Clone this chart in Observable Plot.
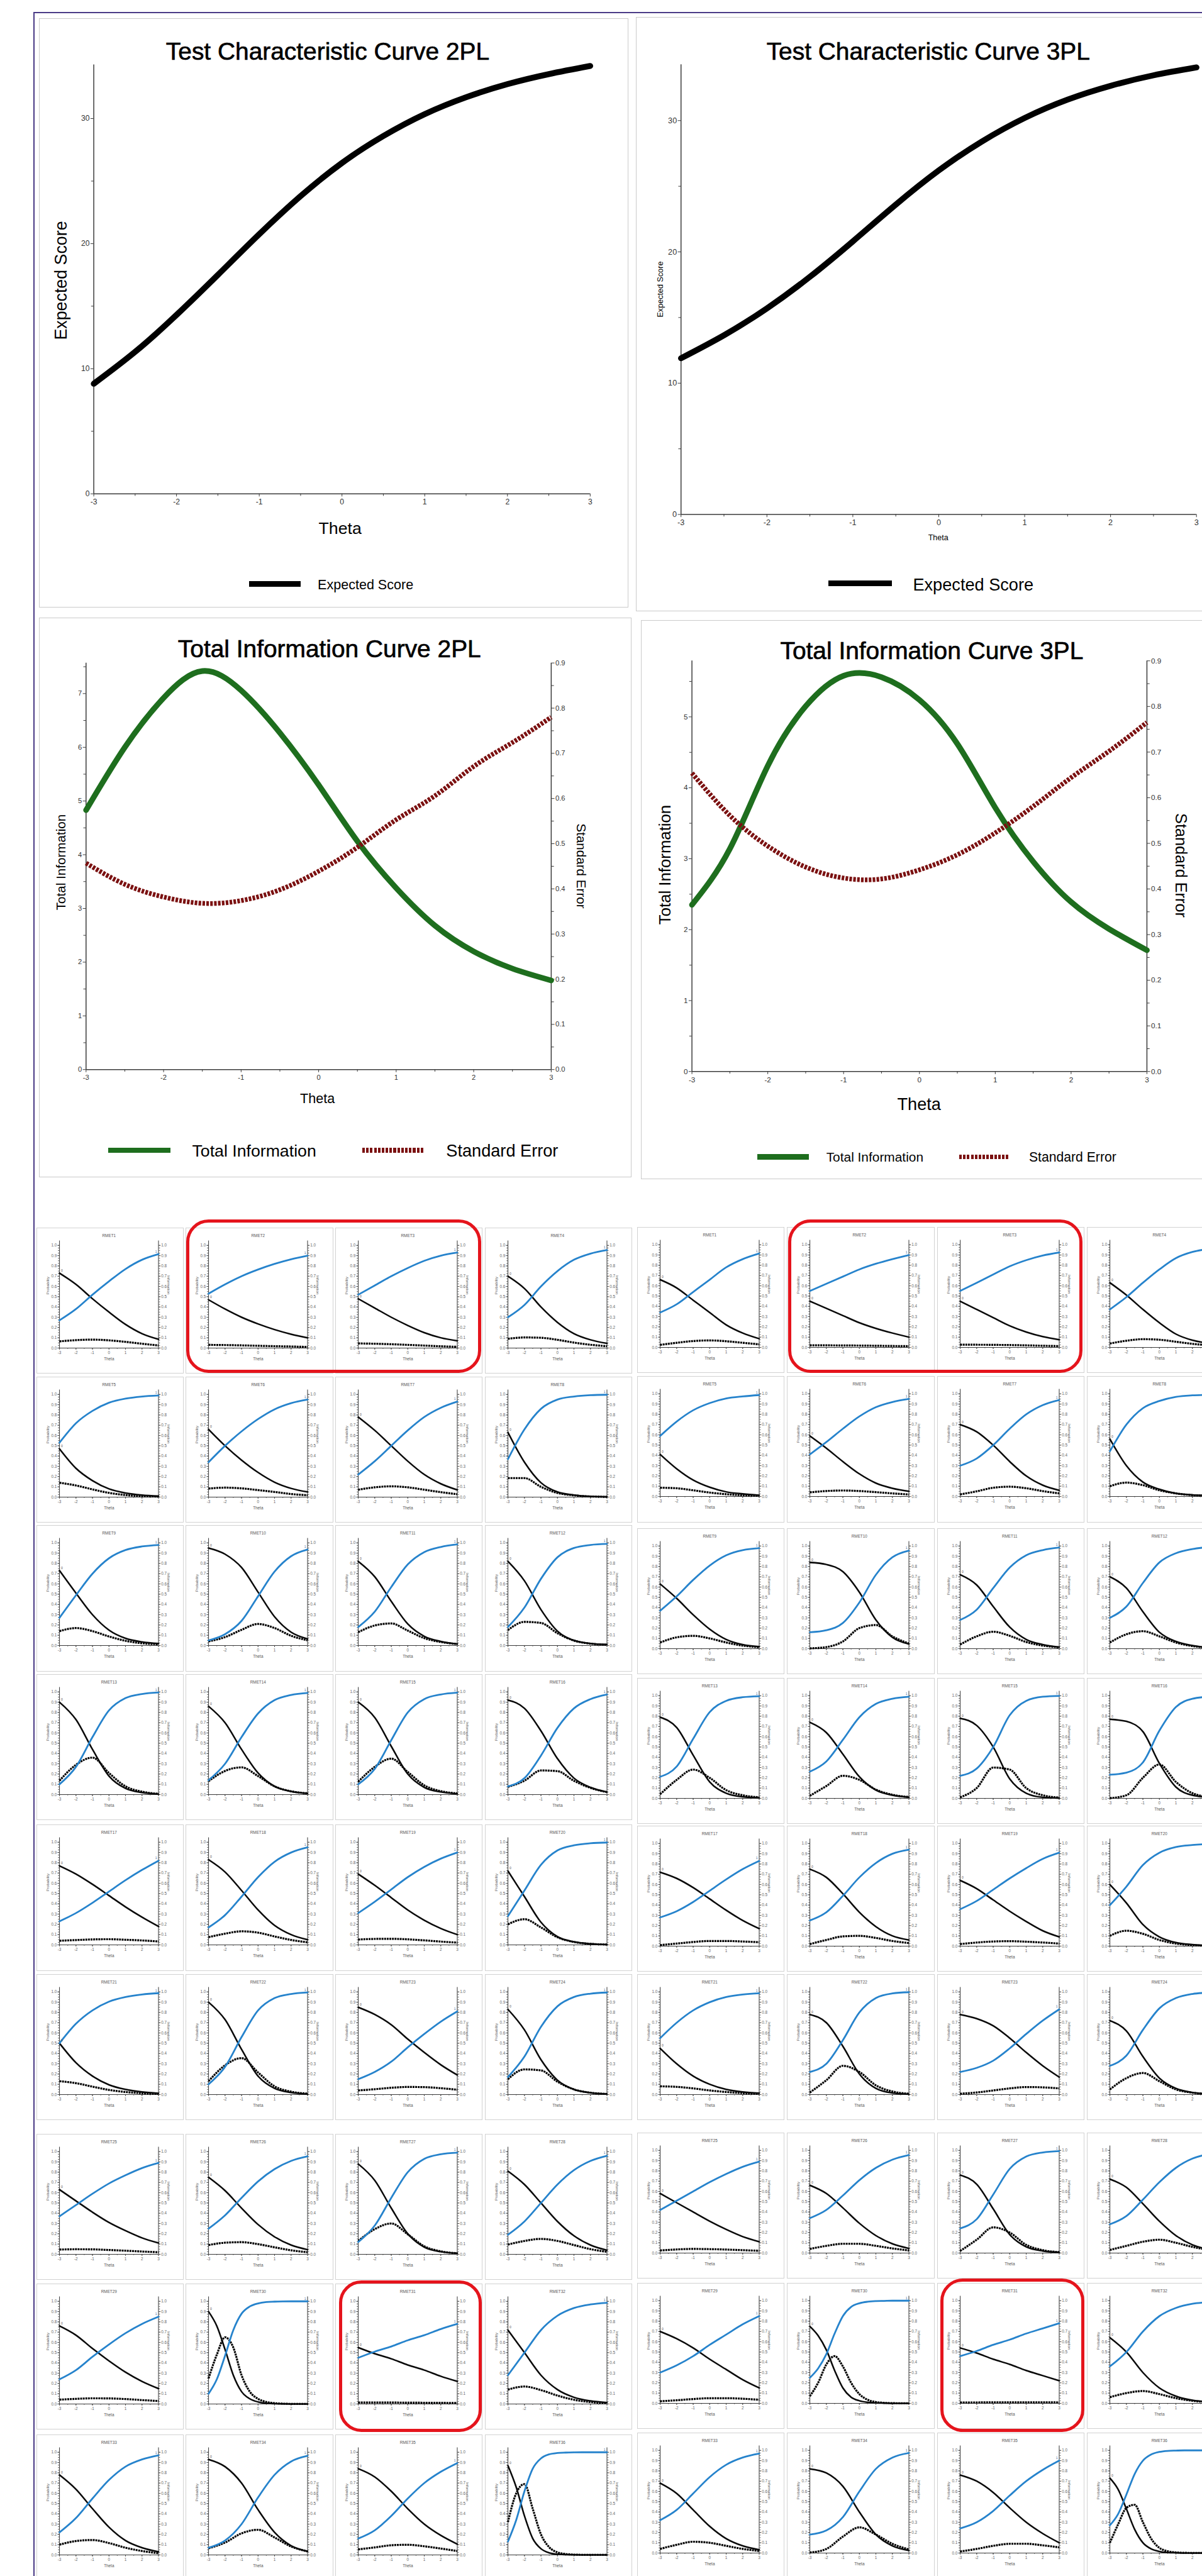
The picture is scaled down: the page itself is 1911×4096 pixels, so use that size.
<!DOCTYPE html>
<html><head><meta charset="utf-8">
<script src="https://cdn.jsdelivr.net/npm/d3@7"></script>
<script src="https://cdn.jsdelivr.net/npm/@observablehq/plot@0.6"></script>
<style>
html,body{margin:0;padding:0;background:#fff;}
#page{position:relative;width:1911px;height:4096px;overflow:hidden;background:#fff;}
#page svg{overflow:visible;position:absolute;}
</style></head><body><div id="page"></div>
<script>
// ---------------- DATA ----------------
const thetaCoarse = [-3,-2,-1,0,1,2,3];
const thetaFine = [-3,-2.5,-2,-1.5,-1,-0.5,0,0.5,1,1.5,2,2.5,3];
const thetaTickLabels = [-3,-2,-1,0,1,2,3];

const tcc2PL = [8.8,11.35,14.3,17.5,20.75,23.8,26.45,28.6,30.35,31.7,32.75,33.55,34.2];
const tcc3PL = [11.9,13.65,15.7,18.1,20.8,23.6,26.2,28.4,30.2,31.6,32.65,33.45,34.05];
const info2PL = [4.83,6.0,6.92,7.42,7.06,6.27,5.3,4.25,3.38,2.68,2.2,1.88,1.66];
const se2PL = [0.457,0.41,0.382,0.368,0.374,0.398,0.439,0.492,0.553,0.606,0.671,0.724,0.78];
const info3PL = [2.35,3.14,4.31,5.15,5.58,5.56,5.24,4.62,3.72,2.96,2.39,2.01,1.71];
const se3PL = [0.654,0.561,0.494,0.448,0.424,0.422,0.442,0.475,0.523,0.581,0.644,0.702,0.765];

const itemNames = ["RMET1","RMET2","RMET3","RMET4","RMET5","RMET6","RMET7","RMET8","RMET9","RMET10","RMET11","RMET12","RMET13","RMET14","RMET15","RMET16","RMET17","RMET18","RMET19","RMET20","RMET21","RMET22","RMET23","RMET24","RMET25","RMET26","RMET27","RMET28","RMET29","RMET30","RMET31","RMET32","RMET33","RMET34","RMET35","RMET36"];

// 2PL item curves: probability of correct (1), incorrect (0), item information
const pc2PL = [
[0.27,0.38,0.52,0.65,0.77,0.86,0.915],[0.53,0.62,0.70,0.765,0.82,0.865,0.90],[0.52,0.61,0.70,0.78,0.85,0.90,0.93],[0.30,0.42,0.60,0.75,0.86,0.92,0.955],
[0.53,0.72,0.84,0.92,0.96,0.98,0.99],[0.34,0.50,0.64,0.76,0.855,0.915,0.95],[0.22,0.35,0.50,0.65,0.78,0.87,0.93],[0.37,0.66,0.86,0.95,0.98,0.993,0.997],
[0.27,0.49,0.70,0.85,0.93,0.965,0.98],[0.05,0.11,0.24,0.48,0.72,0.87,0.935],[0.18,0.33,0.57,0.79,0.91,0.96,0.985],[0.18,0.37,0.65,0.86,0.95,0.98,0.99],
[0.10,0.27,0.56,0.82,0.94,0.98,0.995],[0.14,0.30,0.56,0.79,0.92,0.97,0.99],[0.10,0.25,0.53,0.80,0.93,0.975,0.993],[0.08,0.16,0.38,0.65,0.84,0.93,0.975],
[0.23,0.31,0.41,0.52,0.63,0.73,0.82],[0.17,0.29,0.47,0.66,0.81,0.90,0.95],[0.31,0.42,0.54,0.66,0.76,0.84,0.90],[0.28,0.53,0.78,0.92,0.97,0.99,0.997],
[0.50,0.69,0.82,0.905,0.95,0.975,0.988],[0.10,0.27,0.56,0.82,0.94,0.98,0.995],[0.15,0.22,0.32,0.46,0.59,0.71,0.81],[0.17,0.37,0.66,0.86,0.95,0.983,0.994],
[0.37,0.48,0.59,0.69,0.77,0.84,0.89],[0.25,0.38,0.55,0.71,0.83,0.91,0.955],[0.12,0.28,0.55,0.80,0.93,0.975,0.99],[0.19,0.32,0.50,0.68,0.82,0.91,0.96],
[0.24,0.33,0.46,0.58,0.69,0.78,0.85],[0.10,0.24,0.47,0.72,0.88,0.95,0.98,0.993,0.997,0.999,1,1,1],[0.45,0.51,0.56,0.62,0.67,0.73,0.78],[0.28,0.50,0.72,0.86,0.935,0.97,0.986],
[0.22,0.36,0.55,0.73,0.86,0.93,0.97],[0.07,0.14,0.30,0.56,0.78,0.91,0.965],[0.16,0.24,0.38,0.55,0.70,0.81,0.895],[0.13,0.34,0.62,0.84,0.94,0.98,0.993,0.997,0.999,1,1,1,1]
];
const pi2PL = [
[0.73,0.62,0.48,0.35,0.23,0.14,0.085],[0.47,0.38,0.30,0.235,0.18,0.135,0.10],[0.48,0.39,0.30,0.22,0.15,0.10,0.07],[0.70,0.58,0.40,0.25,0.14,0.08,0.045],
[0.47,0.28,0.16,0.08,0.04,0.02,0.01],[0.66,0.50,0.36,0.24,0.145,0.085,0.05],[0.78,0.65,0.50,0.35,0.22,0.13,0.07],[0.63,0.34,0.14,0.05,0.02,0.007,0.003],
[0.73,0.51,0.30,0.15,0.07,0.035,0.02],[0.95,0.89,0.76,0.52,0.28,0.13,0.065],[0.82,0.67,0.43,0.21,0.09,0.04,0.015],[0.82,0.63,0.35,0.14,0.05,0.02,0.01],
[0.90,0.73,0.44,0.18,0.06,0.02,0.005],[0.86,0.70,0.44,0.21,0.08,0.03,0.01],[0.90,0.75,0.47,0.20,0.07,0.025,0.007],[0.92,0.84,0.62,0.35,0.16,0.07,0.025],
[0.77,0.69,0.59,0.48,0.37,0.27,0.18],[0.83,0.71,0.53,0.34,0.19,0.10,0.05],[0.69,0.58,0.46,0.34,0.24,0.16,0.10],[0.72,0.47,0.22,0.08,0.03,0.01,0.003],
[0.50,0.31,0.18,0.095,0.05,0.025,0.012],[0.90,0.73,0.44,0.18,0.06,0.02,0.005],[0.85,0.78,0.68,0.54,0.41,0.29,0.19],[0.83,0.63,0.34,0.14,0.05,0.017,0.006],
[0.63,0.52,0.41,0.31,0.23,0.16,0.11],[0.75,0.62,0.45,0.29,0.17,0.09,0.045],[0.88,0.72,0.45,0.20,0.07,0.025,0.01],[0.81,0.68,0.50,0.32,0.18,0.09,0.04],
[0.76,0.67,0.54,0.42,0.31,0.22,0.15],[0.90,0.76,0.53,0.28,0.12,0.05,0.02,0.007,0.003,0.001,0,0,0],[0.55,0.49,0.44,0.38,0.33,0.27,0.22],[0.72,0.50,0.28,0.14,0.065,0.03,0.014],
[0.78,0.64,0.45,0.27,0.14,0.07,0.03],[0.93,0.86,0.70,0.44,0.22,0.09,0.035],[0.84,0.76,0.62,0.45,0.30,0.19,0.105],[0.87,0.66,0.38,0.16,0.06,0.02,0.007,0.003,0.001,0,0,0,0]
];
const inf2PL = [
[0.065,0.077,0.082,0.075,0.06,0.042,0.025],[0.031,0.029,0.026,0.022,0.018,0.015,0.011],[0.045,0.042,0.037,0.031,0.024,0.017,0.012],[0.09,0.103,0.10,0.08,0.053,0.032,0.018],
[0.14,0.113,0.075,0.041,0.02,0.01,0.005],[0.083,0.092,0.085,0.068,0.05,0.03,0.018],[0.072,0.095,0.105,0.095,0.072,0.048,0.028],[0.185,0.185,0.10,0.04,0.017,0.006,0.002],
[0.14,0.17,0.14,0.088,0.046,0.022,0.012],[0.04,0.082,0.153,0.21,0.17,0.095,0.051],[0.13,0.195,0.215,0.145,0.072,0.034,0.014],[0.15,0.23,0.22,0.12,0.048,0.018,0.007],
[0.135,0.29,0.36,0.21,0.08,0.028,0.008],[0.13,0.23,0.265,0.18,0.08,0.032,0.012],[0.125,0.27,0.35,0.22,0.09,0.033,0.012],[0.075,0.135,0.235,0.228,0.134,0.065,0.024],
[0.04,0.047,0.053,0.055,0.05,0.043,0.033],[0.075,0.109,0.132,0.119,0.082,0.048,0.025],[0.052,0.058,0.059,0.054,0.044,0.032,0.022],[0.2,0.25,0.17,0.074,0.028,0.01,0.003],
[0.13,0.111,0.077,0.045,0.025,0.013,0.006],[0.13,0.285,0.355,0.215,0.08,0.028,0.009],[0.04,0.052,0.066,0.074,0.072,0.062,0.047],[0.15,0.245,0.235,0.125,0.05,0.018,0.006],
[0.046,0.049,0.048,0.042,0.035,0.027,0.02],[0.09,0.113,0.118,0.099,0.068,0.039,0.02],[0.13,0.245,0.30,0.195,0.078,0.029,0.01],[0.095,0.13,0.15,0.13,0.09,0.05,0.024],
[0.042,0.05,0.055,0.054,0.048,0.038,0.029],[0.25,0.48,0.65,0.55,0.28,0.12,0.05,0.02,0.008,0.003,0.001,0,0],[0.014,0.014,0.014,0.013,0.012,0.011,0.01],[0.14,0.17,0.135,0.082,0.041,0.019,0.009],
[0.10,0.135,0.145,0.115,0.07,0.038,0.017],[0.065,0.12,0.21,0.245,0.17,0.082,0.034],[0.054,0.073,0.094,0.099,0.084,0.062,0.038],[0.32,0.6,0.69,0.45,0.2,0.075,0.025,0.009,0.003,0.001,0,0,0]
];

// 3PL item curves
const pc3PL = [
[0.34,0.42,0.54,0.66,0.78,0.86,0.915],[0.55,0.62,0.69,0.76,0.815,0.86,0.90],[0.55,0.63,0.71,0.79,0.85,0.895,0.925],[0.37,0.49,0.63,0.76,0.87,0.93,0.96],
[0.59,0.73,0.84,0.91,0.955,0.975,0.988],[0.41,0.53,0.66,0.78,0.87,0.92,0.95],[0.30,0.37,0.50,0.66,0.80,0.89,0.94],[0.44,0.70,0.86,0.93,0.97,0.985,0.99],
[0.37,0.51,0.67,0.81,0.91,0.96,0.98],[0.16,0.18,0.25,0.45,0.72,0.89,0.955],[0.28,0.38,0.59,0.79,0.91,0.96,0.985],[0.30,0.41,0.64,0.84,0.93,0.97,0.99],
[0.21,0.31,0.58,0.84,0.95,0.985,0.995],[0.26,0.36,0.57,0.79,0.92,0.97,0.99],[0.22,0.29,0.50,0.81,0.95,0.99,0.998],[0.23,0.25,0.35,0.66,0.89,0.97,0.99],
[0.28,0.34,0.43,0.54,0.65,0.75,0.83],[0.25,0.33,0.49,0.67,0.81,0.90,0.94],[0.36,0.44,0.55,0.66,0.76,0.85,0.91],[0.40,0.58,0.79,0.91,0.965,0.985,0.995],
[0.55,0.70,0.82,0.90,0.95,0.975,0.987],[0.22,0.30,0.53,0.80,0.94,0.985,0.997],[0.22,0.26,0.33,0.45,0.59,0.72,0.83],[0.28,0.38,0.63,0.84,0.94,0.98,0.993],
[0.42,0.51,0.60,0.69,0.77,0.84,0.89],[0.34,0.42,0.56,0.71,0.83,0.91,0.955],[0.24,0.33,0.57,0.82,0.94,0.98,0.993],[0.28,0.36,0.52,0.69,0.83,0.92,0.965],
[0.30,0.37,0.46,0.57,0.67,0.77,0.85],[0.25,0.34,0.48,0.68,0.85,0.94,0.975,0.99,0.996,0.998,1,1,1],[0.46,0.51,0.57,0.62,0.68,0.73,0.78],[0.36,0.50,0.70,0.85,0.93,0.97,0.985],
[0.32,0.42,0.58,0.74,0.86,0.93,0.968],[0.18,0.22,0.35,0.60,0.82,0.93,0.975],[0.24,0.30,0.41,0.56,0.70,0.81,0.90],[0.27,0.38,0.57,0.77,0.90,0.96,0.985,0.995,0.998,1,1,1,1]
];
const pi3PL = [
[0.66,0.58,0.46,0.34,0.22,0.14,0.085],[0.45,0.38,0.31,0.24,0.185,0.14,0.10],[0.45,0.37,0.29,0.21,0.15,0.105,0.075],[0.63,0.51,0.37,0.24,0.13,0.07,0.04],
[0.41,0.27,0.16,0.09,0.045,0.025,0.012],[0.59,0.47,0.34,0.22,0.13,0.08,0.05],[0.70,0.63,0.50,0.34,0.20,0.11,0.06],[0.56,0.30,0.14,0.07,0.03,0.015,0.01],
[0.63,0.49,0.33,0.19,0.09,0.04,0.02],[0.84,0.82,0.75,0.55,0.28,0.11,0.045],[0.72,0.62,0.41,0.21,0.09,0.04,0.015],[0.70,0.59,0.36,0.16,0.07,0.03,0.01],
[0.79,0.69,0.42,0.16,0.05,0.015,0.005],[0.74,0.64,0.43,0.21,0.08,0.03,0.01],[0.78,0.71,0.50,0.19,0.05,0.01,0.002],[0.77,0.75,0.65,0.34,0.11,0.03,0.01],
[0.72,0.66,0.57,0.46,0.35,0.25,0.17],[0.75,0.67,0.51,0.33,0.19,0.10,0.06],[0.64,0.56,0.45,0.34,0.24,0.15,0.09],[0.60,0.42,0.21,0.09,0.035,0.015,0.005],
[0.45,0.30,0.18,0.10,0.05,0.025,0.013],[0.78,0.70,0.47,0.20,0.06,0.015,0.003],[0.78,0.74,0.67,0.55,0.41,0.28,0.17],[0.72,0.62,0.37,0.16,0.06,0.02,0.007],
[0.58,0.49,0.40,0.31,0.23,0.16,0.11],[0.66,0.58,0.44,0.29,0.17,0.09,0.045],[0.76,0.67,0.43,0.18,0.06,0.02,0.007],[0.72,0.64,0.48,0.31,0.17,0.08,0.035],
[0.70,0.63,0.54,0.43,0.33,0.23,0.15],[0.75,0.66,0.52,0.32,0.15,0.06,0.025,0.01,0.004,0.002,0,0,0],[0.54,0.49,0.43,0.38,0.32,0.27,0.22],[0.64,0.50,0.30,0.15,0.07,0.03,0.015],
[0.68,0.58,0.42,0.26,0.14,0.07,0.032],[0.82,0.78,0.65,0.40,0.18,0.07,0.025],[0.76,0.70,0.59,0.44,0.30,0.19,0.10],[0.73,0.62,0.43,0.23,0.10,0.04,0.015,0.005,0.002,0,0,0,0]
];
const inf3PL = [
[0.025,0.045,0.062,0.068,0.06,0.045,0.03],[0.02,0.02,0.019,0.018,0.016,0.014,0.012],[0.026,0.026,0.025,0.023,0.02,0.016,0.013],[0.038,0.065,0.08,0.075,0.055,0.035,0.02],
[0.085,0.08,0.06,0.038,0.022,0.012,0.006],[0.04,0.053,0.058,0.053,0.042,0.03,0.019],[0.02,0.05,0.085,0.095,0.08,0.052,0.03],[0.10,0.135,0.11,0.06,0.03,0.013,0.006],
[0.06,0.11,0.125,0.10,0.06,0.03,0.014],[0.003,0.015,0.07,0.20,0.23,0.12,0.05],[0.04,0.12,0.165,0.125,0.065,0.03,0.012],[0.06,0.14,0.17,0.12,0.06,0.025,0.01],
[0.04,0.18,0.28,0.2,0.08,0.03,0.01],[0.025,0.12,0.22,0.18,0.085,0.035,0.013],[0.01,0.1,0.3,0.28,0.1,0.03,0.008],[0.002,0.03,0.2,0.33,0.16,0.05,0.015],
[0.01,0.025,0.04,0.05,0.05,0.045,0.038],[0.02,0.06,0.095,0.1,0.08,0.05,0.03],[0.02,0.035,0.045,0.048,0.043,0.035,0.025],[0.1,0.15,0.12,0.06,0.025,0.01,0.004],
[0.08,0.075,0.06,0.04,0.025,0.014,0.007],[0.02,0.14,0.28,0.22,0.09,0.03,0.008],[0.008,0.02,0.04,0.06,0.073,0.07,0.06],[0.05,0.16,0.21,0.13,0.05,0.018,0.006],
[0.025,0.035,0.04,0.038,0.034,0.028,0.022],[0.04,0.07,0.09,0.09,0.07,0.045,0.025],[0.02,0.13,0.25,0.2,0.08,0.028,0.009],[0.03,0.07,0.11,0.13,0.1,0.06,0.03],
[0.02,0.03,0.042,0.05,0.05,0.045,0.035],[0.07,0.2,0.38,0.46,0.36,0.2,0.09,0.035,0.013,0.005,0.002,0.001,0],[0.008,0.009,0.01,0.01,0.01,0.01,0.009],[0.06,0.1,0.12,0.09,0.05,0.025,0.01],
[0.04,0.08,0.11,0.1,0.07,0.04,0.02],[0.005,0.04,0.16,0.25,0.18,0.09,0.035],[0.015,0.04,0.07,0.09,0.09,0.075,0.055],[0.1,0.28,0.44,0.47,0.3,0.14,0.05,0.018,0.006,0.002,0.001,0,0]
];

const probTickLabels = [0,0.1,0.2,0.3,0.4,0.5,0.6,0.7,0.8,0.9,1.0];
const seTickLabels = [0,0.1,0.2,0.3,0.4,0.5,0.6,0.7,0.8,0.9];

// ---------------- LAYOUT / DRAWING ----------------
const S = 0.937;
const PAGE_RIGHT = 2039; // right edge of the picture, reference pixels
const FONT = "'Liberation Sans', Arial, Helvetica, sans-serif";
const page = document.getElementById("page");
const AX = "#3a3a3a";
const BLUE = "#2683cc";
const GREEN = "#1e6e1e";
const MAROON = "#7b1111";

function place(el, x, y) {
  el.style.position = "absolute";
  el.style.left = (x * S) + "px";
  el.style.top = (y * S) + "px";
  page.appendChild(el);
  return el;
}
function addBox(x, y, w, h, color, bw, radius) {
  const d = document.createElement("div");
  d.style.cssText = `width:${w*S}px;height:${h*S}px;box-sizing:border-box;border:${bw*S}px solid ${color};border-radius:${(radius||0)*S}px;`;
  return place(d, x, y);
}
function addFill(x, y, w, h, bg) {
  const d = document.createElement("div");
  d.style.cssText = `width:${w*S}px;height:${h*S}px;background:${bg};`;
  return place(d, x, y);
}
function addText(s, x, y, size, o = {}) {
  const d = document.createElement("div");
  d.textContent = s;
  const tx = o.anchor === "start" ? "0" : "-50%";
  const stroke = o.heavy ? `-webkit-text-stroke:${0.7*S}px #000;` : "";
  d.style.cssText = `font-family:${FONT};font-size:${size*S}px;font-weight:${o.weight||400};color:${o.color||"#000"};white-space:nowrap;line-height:1;${stroke}transform:translate(${tx},-50%) rotate(${o.rotate||0}deg);`;
  return place(d, x, y);
}
function legendSample(x1, x2, y, color, width, dashed) {
  const d = document.createElement("div");
  const bg = dashed
    ? `repeating-linear-gradient(90deg, ${color} 0px, ${color} ${4.4*S}px, transparent ${4.4*S}px, transparent ${6.6*S}px)`
    : color;
  d.style.cssText = `width:${(x2-x1)*S}px;height:${width*S}px;background:${bg};`;
  return place(d, x1, y - width/2);
}
const rows = (grid, arr, k = 1) => arr.map((v, i) => ({t: grid[i], v: v * k}));

function bigChart(cfg) {
  const [bx0, by0, bx1, by1] = cfg.box;
  const [px0, py0, px1, py1] = cfg.plot;
  addBox(bx0, by0, bx1 - bx0, by1 - by0, "#cacaca", 2);
  const fs = cfg.fs * S;
  const k = cfg.yMax / 0.9;
  const marks = [
    Plot.ruleX([-3], {stroke: AX, strokeWidth: 1.6 * S}),
    Plot.ruleY([0], {stroke: AX, strokeWidth: 1.6 * S}),
    Plot.axisY(cfg.yMinor, {tickSize: 4 * S, fill: "none", stroke: AX, label: null}),
    Plot.axisY(cfg.yMajor, {tickSize: 5 * S, tickPadding: 2 * S, fontSize: fs, fill: "#333", stroke: AX, tickFormat: d => String(d), label: null}),
    Plot.axisX([-2.5,-1.5,-0.5,0.5,1.5,2.5], {tickSize: 4 * S, fill: "none", stroke: AX, label: null}),
    Plot.axisX(thetaTickLabels, {tickSize: 5 * S, tickPadding: 4 * S, fontSize: fs, fill: "#333", stroke: AX, tickFormat: d => String(d), label: null})
  ];
  if (cfg.se) {
    const seMinor = [0.05,0.15,0.25,0.35,0.45,0.55,0.65,0.75,0.85];
    marks.push(
      Plot.ruleX([3], {stroke: AX, strokeWidth: 1.6 * S}),
      Plot.axisY(seMinor.map(v => v * k), {anchor: "right", tickSize: 4 * S, fill: "none", stroke: AX, label: null}),
      Plot.axisY(seTickLabels.map(v => v * k), {anchor: "right", tickSize: 5 * S, tickPadding: 2 * S, fontSize: fs, fill: "#333", stroke: AX, tickFormat: d => (d / k).toFixed(1), label: null})
    );
  }
  for (const s of cfg.series) {
    marks.push(Plot.line(rows(thetaFine, s.values, s.se ? k : 1), {
      x: "t", y: "v", stroke: s.color, strokeWidth: s.width * S,
      strokeDasharray: s.dash ? `${4.4*S},${2.2*S}` : null,
      strokeLinecap: s.dash ? "butt" : "round",
      curve: "natural"
    }));
  }
  const svg = Plot.plot({
    width: (bx1 - bx0) * S, height: (by1 - by0) * S,
    marginLeft: (px0 - bx0) * S, marginRight: (bx1 - px1) * S,
    marginTop: (py0 - by0) * S, marginBottom: (by1 - py1) * S,
    x: {domain: [-3, 3]}, y: {domain: [0, cfg.yMax]},
    style: {fontFamily: FONT, background: "transparent", overflow: "visible", color: "#333"},
    marks
  });
  place(svg, bx0, by0);
}

const probMinor = d3.range(0, 41).map(i => i * 0.025);
const thetaHalf = [-2.5,-1.5,-0.5,0.5,1.5,2.5];

function smallChart(x0, y0, name, pcv, piv, infv) {
  const W = 250, H = 248, PL = 38.5, PR = 206.5;
  const grid = pcv.length === 13 ? thetaFine : thetaCoarse;
  const clipped = x0 + W > PAGE_RIGHT;             // cell runs past the picture's right edge
  const xPos = t => x0 + PL + (t + 3) / 6 * (PR - PL);
  const visibleTicks = thetaTickLabels.filter(t => xPos(t) + 6 < PAGE_RIGHT);
  addBox(x0, y0, W, H, "#d2d2d2", 1.5);
  const fs = 6.8 * S;
  const tick = {stroke: "#444", strokeWidth: 0.9 * S, label: null};
  const marks = [
    Plot.ruleX([-3, 3], {stroke: AX, strokeWidth: 1.1 * S}),
    Plot.ruleY([0], {stroke: AX, strokeWidth: 1.1 * S}),
    Plot.axisY(probMinor, {...tick, tickSize: 2 * S, fill: "none"}),
    Plot.axisY(probTickLabels, {...tick, tickSize: 3 * S, tickPadding: 1.5 * S, fontSize: fs, fill: "#666", tickFormat: d => d.toFixed(1)}),
    Plot.axisY(probMinor, {...tick, anchor: "right", tickSize: 2 * S, fill: "none"}),
    Plot.axisY(probTickLabels, {...tick, anchor: "right", tickSize: 3 * S, tickPadding: 1.5 * S, fontSize: fs, fill: clipped ? "none" : "#666", tickFormat: d => d.toFixed(1)}),
    Plot.axisX(thetaHalf, {...tick, tickSize: 2 * S, fill: "none"}),
    Plot.axisX(thetaTickLabels, {...tick, tickSize: 3 * S, fill: "none"}),
    Plot.axisX(visibleTicks, {...tick, tickSize: 3 * S, tickPadding: 2 * S, fontSize: fs, fill: "#666", tickFormat: d => String(d)}),
    Plot.line(rows(grid, infv), {x: "t", y: "v", stroke: "#000", strokeWidth: 3.4 * S, strokeDasharray: `${3.2*S},${1.2*S}`, strokeLinecap: "butt", curve: "monotone-x"}),
    Plot.line(rows(grid, piv), {x: "t", y: "v", stroke: "#0a0a0a", strokeWidth: 2.7 * S, curve: "monotone-x"}),
    Plot.line(rows(grid, pcv), {x: "t", y: "v", stroke: BLUE, strokeWidth: 3 * S, curve: "monotone-x"}),
    Plot.text([name], {frameAnchor: "top", dy: -10.8 * S, fontSize: fs, fill: "#555"}),
    Plot.text(["Theta"], {frameAnchor: "bottom", dy: 21.2 * S, fontSize: fs, fill: "#555"}),
    Plot.text(["Probability"], {frameAnchor: "left", rotate: -90, dx: -19.5 * S, fontSize: fs * 0.95, fill: "#555"}),
    Plot.text([{t: -3, v: piv[0]}], {x: "t", y: "v", text: () => "0", dx: 4 * S, dy: -4.5 * S, fontSize: 5.5 * S, fill: "#555"})
  ];
  if (!clipped) {
    marks.push(
      Plot.text(["Information"], {frameAnchor: "right", rotate: 90, dx: 17 * S, fontSize: fs * 0.95, fill: "#555"}),
      Plot.text([{t: 3, v: pcv[pcv.length - 1]}], {x: "t", y: "v", text: () => "1", dx: -4 * S, dy: -4.5 * S, fontSize: 5.5 * S, fill: "#4a6d9a"})
    );
  }
  const svg = Plot.plot({
    width: W * S, height: H * S,
    marginLeft: PL * S, marginRight: (W - PR) * S,
    marginTop: 21.8 * S, marginBottom: (H - 203.8) * S,
    x: {domain: [-3, 3]}, y: {domain: [0, 1.045]},
    style: {fontFamily: FONT, fontSize: fs + "px", background: "transparent", overflow: "visible", color: "#555"},
    marks
  });
  place(svg, x0, y0);
}

// page decoration lines
addFill(58, 20, 2100, 2, "#4a3a86");
addFill(57, 20, 2, 4400, "#4a3a86");

// ---- Panel 1: TCC 2PL
bigChart({box: [66, 31, 1066, 1031], plot: [158.4, 109.4, 1000.7, 837.5], yMax: 34.3,
  yMajor: [0, 10, 20, 30], yMinor: [5, 15, 25], fs: 13,
  series: [{values: tcc2PL, color: "#000", width: 10}]});
addText("Test Characteristic Curve 2PL", 556, 88, 41.5, {heavy: true});
addText("Expected Score", 103, 476, 28.6, {rotate: -90});
addText("Theta", 577, 897, 28.5);
legendSample(423, 510, 991, "#000", 9);
addText("Expected Score", 539, 992, 23, {anchor: "start"});

// ---- Panel 2: TCC 3PL
bigChart({box: [1079, 29, 2070, 1037], plot: [1155, 109.4, 2029.6, 872.7], yMax: 34.26,
  yMajor: [0, 10, 20, 30], yMinor: [5, 15, 25], fs: 13.5,
  series: [{values: tcc3PL, color: "#000", width: 10}]});
addText("Test Characteristic Curve 3PL", 1575, 87, 41.5, {heavy: true});
addText("Expected Score", 1121, 491, 13.5, {rotate: -90});
addText("Theta", 1592, 912, 13.4);
legendSample(1406, 1513, 990, "#000", 9);
addText("Expected Score", 1549, 992, 29, {anchor: "start"});

// ---- Panel 3: Total Information 2PL
bigChart({box: [66, 1047.5, 1071, 1997.5], plot: [145.3, 1124, 934.6, 1814], yMax: 7.57,
  yMajor: [0,1,2,3,4,5,6,7], yMinor: [0.5,1.5,2.5,3.5,4.5,5.5,6.5,7.5], fs: 12, se: true,
  series: [{values: info2PL, color: GREEN, width: 9.5}, {values: se2PL, color: MAROON, width: 8, dash: true, se: true}]});
addText("Total Information Curve 2PL", 559, 1101, 41.5, {heavy: true});
addText("Total Information", 103, 1463, 22, {rotate: -90});
addText("Standard Error", 986, 1470, 22, {rotate: 90});
addText("Theta", 538.6, 1864, 23);
legendSample(184, 289, 1952, GREEN, 9);
addText("Total Information", 326, 1953, 28.5, {anchor: "start"});
legendSample(615, 718, 1952, MAROON, 8, true);
addText("Standard Error", 757, 1953, 29, {anchor: "start"});

// ---- Panel 4: Total Information 3PL
bigChart({box: [1088, 1052, 2070, 2000.6], plot: [1174, 1120.6, 1946, 1817.5], yMax: 5.79,
  yMajor: [0,1,2,3,4,5], yMinor: [0.5,1.5,2.5,3.5,4.5,5.5], fs: 12.5, se: true,
  series: [{values: info3PL, color: GREEN, width: 9.5}, {values: se3PL, color: MAROON, width: 8, dash: true, se: true}]});
addText("Total Information Curve 3PL", 1581, 1105, 41.5, {heavy: true});
addText("Total Information", 1129, 1467.5, 27.5, {rotate: -90});
addText("Standard Error", 2003, 1469, 27, {rotate: 90});
addText("Theta", 1559.5, 1874, 29);
legendSample(1285, 1372, 1963, GREEN, 9);
addText("Total Information", 1402, 1964, 22.3, {anchor: "start"});
legendSample(1628, 1712, 1963, MAROON, 8, true);
addText("Standard Error", 1746, 1964, 22.6, {anchor: "start"});

// ---- Item grids (left: 2PL, right: 3PL)
const leftColX = [61.5, 315.3, 569.1, 822.9];
const leftRowY = [2083, 2336, 2588.5, 2841, 3096.5, 3349.6, 3620.6, 3875, 4130.8];
const rightColX = [1081, 1335.5, 1590, 1844.5];
const rightRowY = [2082, 2335.5, 2593, 2847.5, 3098, 3349.6, 3619, 3873.7, 4128];
for (let i = 0; i < itemNames.length; i++) {
  const r = Math.floor(i / 4), c = i % 4;
  smallChart(leftColX[c], leftRowY[r], itemNames[i], pc2PL[i], pi2PL[i], inf2PL[i]);
  smallChart(rightColX[c], rightRowY[r], itemNames[i], pc3PL[i], pi3PL[i], inf3PL[i]);
}

// highlight boxes
const RED = "#e5141c";
addBox(316, 2069, 500, 261, RED, 5.5, 38);
addBox(1337, 2069, 500, 261, RED, 5.5, 38);
addBox(575, 3870, 243, 257, RED, 5.5, 38);
addBox(1596, 3867, 244, 260, RED, 5.5, 38);
</script></body></html>
